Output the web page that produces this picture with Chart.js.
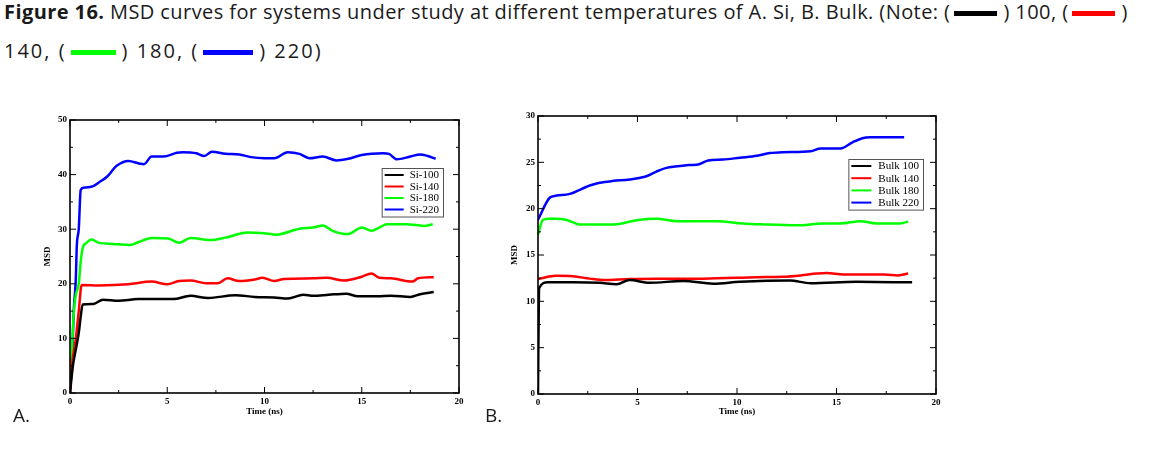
<!DOCTYPE html>
<html>
<head>
<meta charset="utf-8">
<script src="https://cdn.jsdelivr.net/npm/chart.js@4.4.1/dist/chart.umd.min.js"></script>
<style>
body{margin:0;width:1162px;height:451px;background:#fff;position:relative;overflow:hidden;font-family:"Open Sans",sans-serif;color:#1a1a1a}
#cap{position:absolute;left:4px;top:-8px;font-size:20px;letter-spacing:0.42px;line-height:39px;white-space:nowrap}
#cap b{font-weight:700}
#cap .l2{letter-spacing:2px}
.sw{display:inline-block;width:43px;height:5px;vertical-align:middle;margin:0 6px 0 4px}
.lbl{position:absolute;top:406px;font-size:19px;line-height:19px}
#wrapA{position:absolute;left:0;top:100px;width:475px;height:330px}
#wrapB{position:absolute;left:470px;top:100px;width:490px;height:330px}
</style>
</head>
<body>
<div id="cap"><b>Figure 16.</b> MSD curves for systems under study at different temperatures of A. Si, B. Bulk. (Note: (<span class="sw" style="background:#000"></span>) 100, (<span class="sw" style="background:#f00"></span>)<br><span class="l2">140, (<span class="sw" style="background:#0f0;width:45px"></span>) 180, (<span class="sw" style="background:#00f;width:50px"></span>) 220)</span></div>

<div id="wrapA"><canvas id="chartA" width="475" height="330"></canvas></div>
<div id="wrapB"><canvas id="chartB" width="490" height="330"></canvas></div>
<div class="lbl" style="left:13px">A.</div>
<div class="lbl" style="left:485px">B.</div>

<script>
// ---- A. Si
const siLabels = ["Si-100", "Si-140", "Si-180", "Si-220"];
const siT100 = [0, 0.15, 0.3, 0.45, 0.55, 0.65, 1.2, 1.7, 2.5, 3.5, 5.3, 6.2, 7.1, 8.5, 9.5, 10.5, 11.2, 12, 12.5, 13.3, 14.2, 14.8, 15.8, 16.5, 17.5, 18, 18.7];
const si100  = [0, 5, 8, 11, 14, 16.2, 16.3, 17.1, 16.9, 17.2, 17.2, 17.8, 17.4, 17.9, 17.6, 17.5, 17.3, 18.0, 17.8, 18.0, 18.2, 17.7, 17.7, 17.8, 17.6, 18.1, 18.5];
const siT140 = [0, 0.1, 0.3, 0.45, 0.6, 1.5, 3, 4.2, 5, 5.6, 6.2, 7, 7.6, 8.1, 8.7, 9.5, 9.9, 10.5, 11, 12.5, 13.2, 14.1, 15, 15.5, 15.9, 16.5, 17.6, 17.9, 18.7];
const si140  = [0, 5, 10, 15, 19.8, 19.7, 19.9, 20.4, 19.9, 20.5, 20.6, 20.1, 20.1, 21.0, 20.5, 20.8, 21.1, 20.5, 20.9, 21.0, 21.1, 20.6, 21.3, 21.9, 21.1, 21.0, 20.4, 21.0, 21.2];
const siT180 = [0, 0.1, 0.2, 0.3, 0.45, 0.55, 0.65, 0.85, 1.1, 1.5, 2.2, 3.1, 3.5, 4.2, 5.05, 5.6, 6.2, 7.2, 8.05, 9.1, 10.1, 10.6, 11.8, 12.5, 13.0, 13.5, 14.3, 15.0, 15.5, 15.8, 16.3, 17.3, 18.2, 18.65];
const si180  = [0, 8, 15, 18, 20, 24, 26.5, 27.5, 28.1, 27.5, 27.3, 27.1, 27.6, 28.4, 28.3, 27.5, 28.4, 28.0, 28.5, 29.4, 29.2, 29.0, 30.1, 30.3, 30.7, 29.7, 29.1, 30.3, 29.7, 30.1, 30.9, 30.9, 30.6, 30.9];
const siT220 = [0, 0.1, 0.2, 0.25, 0.3, 0.35, 0.45, 0.55, 0.7, 1.2, 1.5, 1.9, 2.4, 3.0, 3.6, 3.8, 4.2, 4.8, 5.5, 5.8, 6.5, 6.9, 7.3, 8, 8.7, 9.3, 10, 10.5, 11.2, 11.8, 12.3, 13, 13.7, 14.3, 15, 16.1, 16.4, 16.8, 17.5, 18, 18.4, 18.8];
const si220  = [0, 6, 15.5, 18, 21, 27, 30, 37.2, 37.6, 37.9, 38.6, 39.6, 41.6, 42.5, 42.0, 41.9, 43.3, 43.3, 44.0, 44.1, 43.9, 43.4, 44.2, 43.8, 43.7, 43.2, 43.0, 43.0, 44.1, 43.8, 43.0, 43.3, 42.6, 42.9, 43.6, 43.9, 43.8, 42.8, 43.3, 43.7, 43.4, 42.9];

// ---- B. Bulk
const bulkLabels = ["Bulk 100", "Bulk 140", "Bulk 180", "Bulk 220"];
const bkT100 = [0, 0.05, 0.5, 1.75, 3.1, 3.95, 4.6, 5.6, 7.3, 8.8, 10.15, 12.65, 13.7, 16.0, 18.8];
const bk100  = [0, 11.4, 12.06, 12.06, 12.0, 11.85, 12.3, 12.0, 12.2, 11.9, 12.1, 12.25, 11.95, 12.1, 12.05];
const bkT140 = [0, 0.9, 1.75, 2.6, 3.3, 4.6, 5.95, 8.3, 11.0, 12.3, 13.2, 14.0, 14.5, 15.35, 17.4, 18.1, 18.6];
const bk140  = [12.4, 12.75, 12.7, 12.45, 12.3, 12.4, 12.45, 12.45, 12.6, 12.65, 12.8, 13.0, 13.07, 12.9, 12.9, 12.8, 13.0];
const bkT180 = [0, 0.25, 0.6, 0.9, 1.4, 2.1, 3.8, 4.95, 5.95, 7.0, 9.0, 10.3, 11.3, 13.0, 14.35, 15.2, 16.2, 17.0, 18.2, 18.6];
const bk180  = [17.2, 18.8, 18.9, 18.9, 18.8, 18.3, 18.3, 18.75, 18.9, 18.65, 18.65, 18.4, 18.3, 18.2, 18.4, 18.4, 18.65, 18.4, 18.4, 18.6];
const bkT220 = [0, 0.6, 0.9, 1.6, 2.6, 3.1, 3.8, 4.6, 5.45, 5.95, 6.45, 7.6, 8.1, 8.55, 9.3, 10.15, 11.0, 11.65, 12.3, 13.7, 14.2, 15.2, 15.8, 16.3, 16.7, 18.4];
const bk220  = [18.8, 21.2, 21.4, 21.6, 22.5, 22.8, 23.0, 23.15, 23.5, 24.0, 24.4, 24.7, 24.8, 25.2, 25.3, 25.5, 25.7, 26.0, 26.1, 26.2, 26.5, 26.5, 27.15, 27.6, 27.7, 27.7];

const colores = ["#000000", "#ff0000", "#00ff00", "#0000ff"];

function pts(t, v) {
  return t.map((x, i) => ({x: x, y: v[i]}));
}

function hacerSets(labels, series) {
  return series.map((s, i) => ({
    label: labels[i],
    data: pts(s[0], s[1]),
    borderColor: colores[i],
    borderWidth: 2.5,
    pointRadius: 0,
    cubicInterpolationMode: "monotone",
    fill: false
  }));
}

// marco + ticks hacia adentro (mayores y menores)
const marco = {
  id: "marco",
  afterDatasetsDraw(chart) {
    const {ctx, chartArea: a, scales} = chart;
    const linea = (x1, y1, x2, y2) => { ctx.beginPath(); ctx.moveTo(x1, y1); ctx.lineTo(x2, y2); ctx.stroke(); };
    const marcas = (sc) => {
      const v = sc.ticks.map(t => t.value);
      const out = [];
      v.forEach((t, i) => {
        out.push([t, 6]);
        if (i < v.length - 1) out.push([(t + v[i + 1]) / 2, 3]);
      });
      return out;
    };
    ctx.save();
    ctx.strokeStyle = "#000";
    ctx.lineWidth = 1;
    marcas(scales.x).forEach(([v, l]) => {
      const px = scales.x.getPixelForValue(v);
      linea(px, a.bottom, px, a.bottom - l);
      linea(px, a.top, px, a.top + l);
    });
    marcas(scales.y).forEach(([v, l]) => {
      const py = scales.y.getPixelForValue(v);
      linea(a.left, py, a.left + l, py);
      linea(a.right, py, a.right - l, py);
    });
    ctx.lineWidth = 1.6;
    ctx.strokeRect(a.left, a.top, a.right - a.left, a.bottom - a.top);
    ctx.restore();
  }
};

// leyenda en caja dentro del grafico
const cajaLeyenda = {
  id: "cajaLeyenda",
  afterDraw(chart, args, o) {
    const {ctx, chartArea: a} = chart;
    const sets = chart.data.datasets;
    ctx.save();
    ctx.font = "11px 'Liberation Serif', serif";
    const anchoTxt = Math.max(...sets.map(d => ctx.measureText(d.label).width));
    const w = o.textX + anchoTxt + 4;
    const h = 14 + (sets.length - 1) * o.rowH;
    const x0 = a.right - o.right - w;
    const y0 = a.top + o.top;
    ctx.fillStyle = "#fff";
    ctx.fillRect(x0, y0, w, h);
    ctx.strokeStyle = "#555";
    ctx.lineWidth = 1;
    ctx.strokeRect(x0 + 0.5, y0 + 0.5, w, h);
    sets.forEach((d, i) => {
      const yy = y0 + 7 + i * o.rowH;
      ctx.strokeStyle = d.borderColor;
      ctx.lineWidth = 2;
      ctx.beginPath();
      ctx.moveTo(x0 + 3, yy);
      ctx.lineTo(x0 + 3 + o.sw, yy);
      ctx.stroke();
      ctx.fillStyle = "#000";
      ctx.textBaseline = "middle";
      ctx.fillText(d.label, x0 + o.textX, yy + 0.5);
    });
    ctx.restore();
  }
};

const fuenteEje = {family: "'Liberation Serif', serif", weight: "bold", size: 9};

function opciones(yMax, yStep, yWidth, xHeight, padTop, padRight, msdPad, leg) {
  return {
    responsive: false,
    animation: false,
    layout: {padding: {left: 0, top: padTop, right: padRight, bottom: 0}},
    plugins: {legend: {display: false}, tooltip: {enabled: false}, cajaLeyenda: leg},
    scales: {
      x: {
        type: "linear", min: 0, max: 20,
        grid: {display: false, drawTicks: false},
        border: {display: false},
        ticks: {stepSize: 5, padding: 3, color: "#000", font: fuenteEje, maxRotation: 0},
        title: {display: true, text: "Time (ns)", color: "#000", font: fuenteEje, padding: {top: 0, bottom: 12.6}},
        afterFit: s => { s.height = xHeight; }
      },
      y: {
        min: 0, max: yMax,
        grid: {display: false, drawTicks: false},
        border: {display: false},
        ticks: {stepSize: yStep, padding: 3, color: "#000", font: fuenteEje},
        title: {display: true, text: "MSD", color: "#000", font: fuenteEje, padding: {top: msdPad, bottom: 0}},
        afterFit: s => { s.width = yWidth; }
      }
    }
  };
}

new Chart(document.getElementById("chartA"), {
  type: "line",
  data: {datasets: hacerSets(siLabels, [[siT100, si100], [siT140, si140], [siT180, si180], [siT220, si220]])},
  options: opciones(50, 10, 70, 37, 20, 16, 42.6, {right: 16, top: 48, rowH: 11.5, sw: 19, textX: 28}),
  plugins: [marco, cajaLeyenda]
});

new Chart(document.getElementById("chartB"), {
  type: "line",
  data: {datasets: hacerSets(bulkLabels, [[bkT100, bk100], [bkT140, bk140], [bkT180, bk180], [bkT220, bk220]])},
  options: opciones(30, 5, 68, 36, 16, 24, 39.6, {right: 13, top: 43, rowH: 12.2, sw: 20, textX: 30}),
  plugins: [marco, cajaLeyenda]
});
</script>
</body>
</html>
